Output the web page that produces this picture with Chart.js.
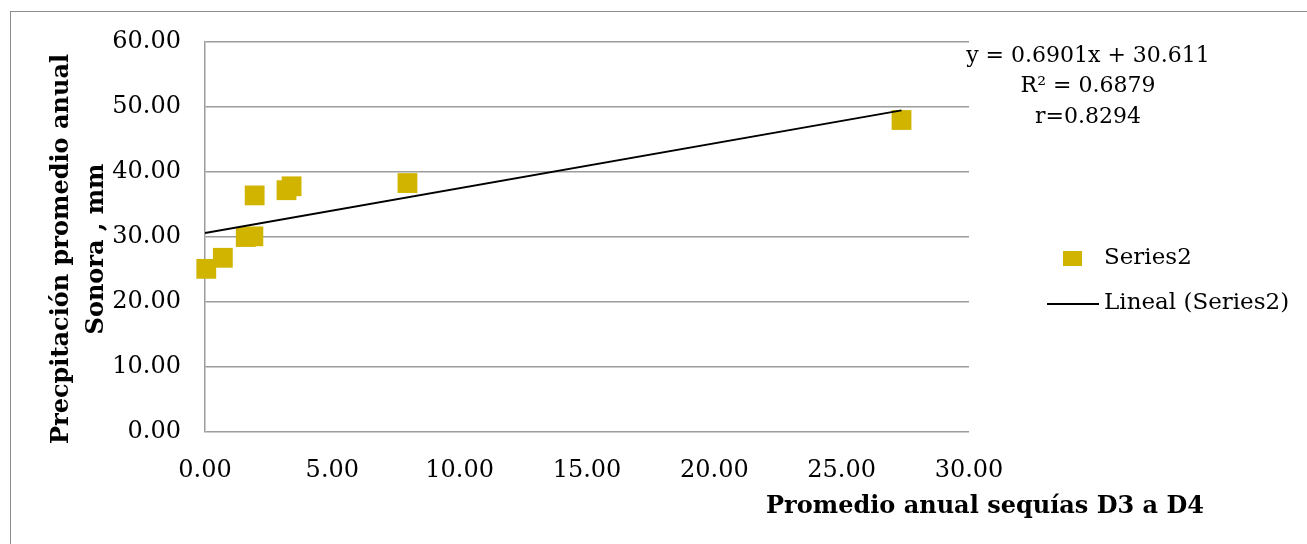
<!DOCTYPE html>
<html lang="en">
<head>
    <meta charset="UTF-8">
    <title>Precipitación vs sequías</title>
    <script src="https://cdn.jsdelivr.net/npm/chart.js"></script>
    <style>
        body { margin: 0; background: #fff; }
        #wrap { position: relative; width: 1307px; height: 544px; overflow: hidden; }
        #frame {
            position: absolute; left: 10px; top: 11px; width: 1320px; height: 560px;
            border: 1px solid #8c8c8c;
        }
        canvas { position: absolute; left: 0; top: 0; }
    </style>
</head>
<body>
<div id="wrap">
    <div id="frame"></div>
    <canvas id="chart" width="1307" height="544"></canvas>
</div>

<script>
    // values
    const sequiasX = [0.05, 0.7, 1.6, 1.9, 1.95, 3.2, 3.4, 7.95, 27.35];
    const precipY  = [25.1, 26.8, 30.0, 30.1, 36.4, 37.2, 37.8, 38.3, 48.0];
    const trendX = [0, 27.35];
    const trendY = [30.61, 49.48];
    const equationLines = ['y = 0.6901x + 30.611', 'R\u00b2 = 0.6879', 'r=0.8294'];
    const yTitleLines = ['Precpitación promedio anual', 'Sonora , mm'];
    const xTitle = 'Promedio anual sequías D3 a D4';
    const seriesName = 'Series2';
    const trendName = 'Lineal (Series2)';

    const gold = '#d0b400';
    const serif = "'DejaVu Serif', serif";

    // titles, equation and legend drawn by hand
    const extras = {
        id: 'extras',
        afterDraw(chart) {
            const ctx = chart.ctx;
            ctx.save();
            ctx.fillStyle = '#000';
            ctx.textAlign = 'center';
            ctx.textBaseline = 'middle';

            // y title
            ctx.font = 'bold 24px ' + serif;
            ctx.save();
            ctx.translate(62, 249);
            ctx.rotate(-Math.PI / 2);
            ctx.fillText(yTitleLines[0], 0, 0);
            ctx.fillText(yTitleLines[1], 0, 35);
            ctx.restore();

            // x title
            ctx.fillText(xTitle, 985, 507);

            // equation
            ctx.font = '22px ' + serif;
            equationLines.forEach((t, i) => ctx.fillText(t, 1088, 56 + i * 30.5));

            // legend
            ctx.fillStyle = gold;
            ctx.fillRect(1063, 251, 19, 15);
            ctx.strokeStyle = '#000';
            ctx.lineWidth = 2;
            ctx.beginPath();
            ctx.moveTo(1047, 304);
            ctx.lineTo(1099, 304);
            ctx.stroke();
            ctx.fillStyle = '#000';
            ctx.textAlign = 'left';
            ctx.font = '23px ' + serif;
            ctx.fillText(seriesName, 1104, 258);
            ctx.fillText(trendName, 1104, 303);
            ctx.restore();
        }
    };

    new Chart(document.getElementById('chart'), {
        type: 'scatter',
        data: {
            datasets: [
                {
                    label: seriesName,
                    data: sequiasX.map((x, i) => ({ x: x, y: precipY[i] })),
                    pointStyle: 'rect',
                    pointRadius: 14,
                    pointHoverRadius: 14,
                    backgroundColor: gold,
                    borderColor: gold,
                    borderWidth: 0,
                    clip: false,
                    order: 2
                },
                {
                    type: 'line',
                    label: trendName,
                    data: trendX.map((x, i) => ({ x: x, y: trendY[i] })),
                    borderColor: '#000',
                    borderWidth: 2,
                    pointRadius: 0,
                    fill: false,
                    order: 1
                }
            ]
        },
        options: {
            responsive: false,
            animation: false,
            layout: { padding: { left: 0, right: 338, top: 42, bottom: 0 } },
            plugins: {
                legend: { display: false },
                tooltip: { enabled: false }
            },
            scales: {
                x: {
                    type: 'linear',
                    min: 0,
                    max: 30,
                    afterFit: s => { s.height = 112; },
                    ticks: {
                        stepSize: 5,
                        padding: 24,
                        color: '#000',
                        font: { family: serif, size: 24 },
                        callback: v => v.toFixed(2)
                    },
                    grid: { display: false, drawTicks: false },
                    border: { display: false }
                },
                y: {
                    min: 0,
                    max: 60,
                    afterFit: s => { s.width = 205; },
                    ticks: {
                        stepSize: 10,
                        padding: 24,
                        color: '#000',
                        font: { family: serif, size: 24 },
                        callback: v => v.toFixed(2)
                    },
                    grid: { color: '#9c9c9c', lineWidth: 1.5, drawTicks: false },
                    border: { color: '#9c9c9c', width: 1.5 }
                }
            }
        },
        plugins: [extras]
    });
</script>
</body>
</html>
